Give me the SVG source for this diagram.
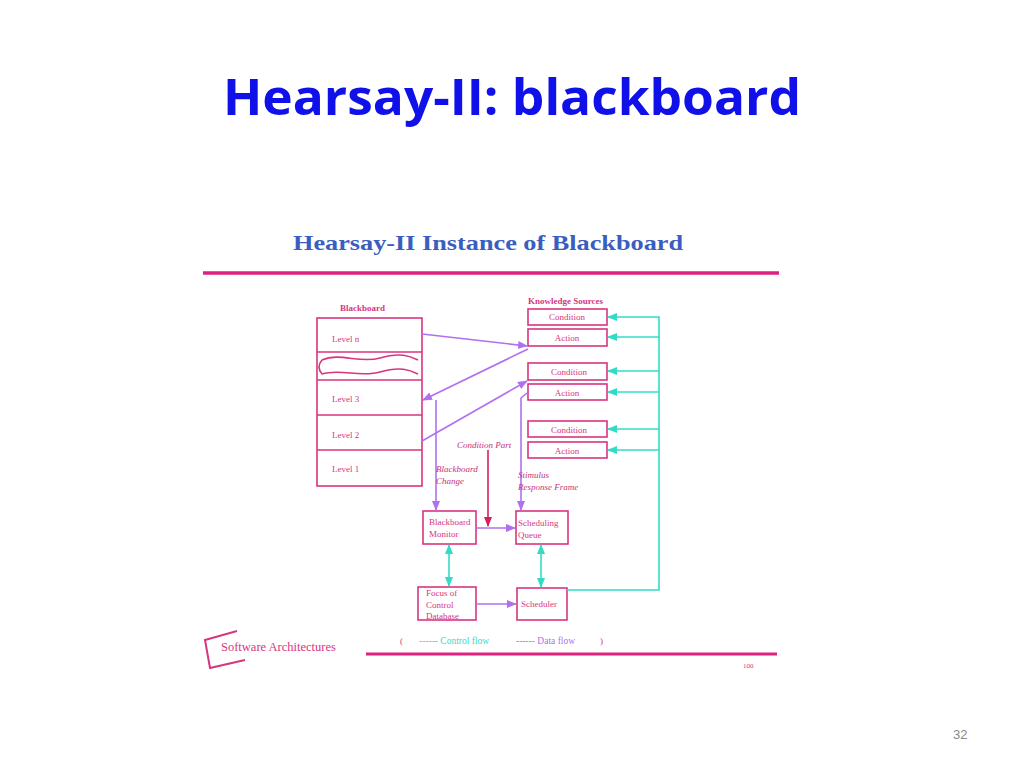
<svg xmlns="http://www.w3.org/2000/svg" width="1024" height="768" viewBox="0 0 1024 768">
<style>
.b{fill:none;stroke:#d8357f;stroke-width:1.6}
.t{font-family:"Liberation Serif",serif;font-size:9px;fill:#d8357f}
.i{font-family:"Liberation Serif",serif;font-size:9px;fill:#c8307a;font-style:italic}
.p{stroke:#b070f0;stroke-width:1.6;fill:none}
.c{stroke:#30dcc8;stroke-width:1.6;fill:none}
.r{stroke:#d81e60;stroke-width:1.6;fill:none}
</style>
<defs>
<marker id="ap" markerWidth="10" markerHeight="8" refX="9" refY="4" orient="auto" markerUnits="userSpaceOnUse"><path d="M0,0L10,4L0,8z" fill="#b070f0"/></marker>
<marker id="ac" markerWidth="10" markerHeight="8" refX="9" refY="4" orient="auto-start-reverse" markerUnits="userSpaceOnUse"><path d="M0,0L10,4L0,8z" fill="#30dcc8"/></marker>
<marker id="ar" markerWidth="10" markerHeight="8" refX="9" refY="4" orient="auto" markerUnits="userSpaceOnUse"><path d="M0,0L10,4L0,8z" fill="#d81e60"/></marker>
</defs>
<rect width="1024" height="768" fill="#fff"/>
<text x="512" y="115" text-anchor="middle" font-family="'Open Sans','Liberation Sans',sans-serif" font-weight="bold" font-size="50" fill="#1010e8" textLength="578" lengthAdjust="spacingAndGlyphs">Hearsay-II: blackboard</text>
<text x="488" y="250" text-anchor="middle" font-family="'Liberation Serif',serif" font-weight="bold" font-size="21" fill="#3a5ec0" textLength="390" lengthAdjust="spacingAndGlyphs">Hearsay-II Instance of Blackboard</text>
<line x1="203" y1="273" x2="779" y2="273" stroke="#e0207f" stroke-width="3.5"/>
<g id="blackboard">
<text x="340" y="311" class="t" font-weight="bold">Blackboard</text>
<rect x="317" y="318" width="105" height="168" class="b"/>
<line x1="317" y1="352" x2="422" y2="352" class="b"/>
<line x1="317" y1="380" x2="422" y2="380" class="b"/>
<line x1="317" y1="415" x2="422" y2="415" class="b"/>
<line x1="317" y1="450" x2="422" y2="450" class="b"/>
<path d="M322,360 C340,352 360,364 380,358 S410,356 418,360 M322,374 C340,368 360,378 380,372 S410,370 418,374 M322,360 Q316,367 322,374" class="b"/>
<text x="332" y="342" class="t">Level n</text>
<text x="332" y="402" class="t">Level 3</text>
<text x="332" y="438" class="t">Level 2</text>
<text x="332" y="472" class="t">Level 1</text>
</g>
<g id="ks">
<text x="528" y="304" class="t" font-weight="bold">Knowledge Sources</text>
<rect x="528" y="309" width="79" height="16" class="b"/><text x="567" y="320" class="t" text-anchor="middle">Condition</text>
<rect x="528" y="329" width="79" height="17" class="b"/><text x="567" y="341" class="t" text-anchor="middle">Action</text>
<rect x="528" y="363" width="79" height="17" class="b"/><text x="569" y="375" class="t" text-anchor="middle">Condition</text>
<rect x="528" y="384" width="79" height="16" class="b"/><text x="567" y="396" class="t" text-anchor="middle">Action</text>
<rect x="528" y="421" width="79" height="16" class="b"/><text x="569" y="433" class="t" text-anchor="middle">Condition</text>
<rect x="528" y="442" width="79" height="16" class="b"/><text x="567" y="454" class="t" text-anchor="middle">Action</text>
</g>
<g id="monitor"><rect x="423" y="511" width="53" height="33" class="b"/><text x="429" y="525" class="t">Blackboard</text><text x="429" y="537" class="t">Monitor</text></g>
<g id="queue"><rect x="516" y="511" width="52" height="33" class="b"/><text x="518" y="526" class="t">Scheduling</text><text x="518" y="538" class="t">Queue</text></g>
<g id="focus"><rect x="418" y="587" width="58" height="33" class="b"/><text x="426" y="596" class="t">Focus of</text><text x="426" y="608" class="t">Control</text><text x="426" y="619" class="t">Database</text></g>
<g id="scheduler"><rect x="517" y="588" width="50" height="32" class="b"/><text x="521" y="607" class="t">Scheduler</text></g>
<g id="connectors">
<line x1="422" y1="334" x2="527" y2="346" class="p" marker-end="url(#ap)"/>
<line x1="528" y1="349" x2="423" y2="400" class="p" marker-end="url(#ap)"/>
<line x1="422" y1="441" x2="527" y2="381" class="p" marker-end="url(#ap)"/>
<line x1="436" y1="400" x2="436" y2="510" class="p" marker-end="url(#ap)"/>
<path d="M527,393 L521,398 L521,510" class="p" marker-end="url(#ap)"/>
<line x1="488" y1="450" x2="488" y2="526" class="r" marker-end="url(#ar)"/>
<line x1="476" y1="528" x2="515" y2="528" class="p" marker-end="url(#ap)"/>
<line x1="476" y1="604" x2="516" y2="604" class="p" marker-end="url(#ap)"/>
<line x1="449" y1="545" x2="449" y2="586" class="c" marker-start="url(#ac)" marker-end="url(#ac)"/>
<line x1="541" y1="545" x2="541" y2="587" class="c" marker-start="url(#ac)" marker-end="url(#ac)"/>
<path d="M567,590 H659 V317 H608" class="c" marker-end="url(#ac)"/>
<line x1="659" y1="337" x2="608" y2="337" class="c" marker-end="url(#ac)"/>
<line x1="659" y1="371" x2="608" y2="371" class="c" marker-end="url(#ac)"/>
<line x1="659" y1="392" x2="608" y2="392" class="c" marker-end="url(#ac)"/>
<line x1="659" y1="429" x2="608" y2="429" class="c" marker-end="url(#ac)"/>
<line x1="659" y1="450" x2="608" y2="450" class="c" marker-end="url(#ac)"/>
</g>
<text x="457" y="448" class="i">Condition Part</text>
<text x="436" y="472" class="i">Blackboard</text>
<text x="436" y="484" class="i">Change</text>
<text x="518" y="478" class="i">Stimulus</text>
<text x="518" y="490" class="i">Response Frame</text>
<path d="M237,631 L205,640 L210,668 L245,660" fill="none" stroke="#d8357f" stroke-width="2"/>
<text x="221" y="651" font-family="'Liberation Serif',serif" font-size="12.5" fill="#d8357f">Software Architectures</text>
<line x1="366" y1="654" x2="777" y2="654" stroke="#e0207f" stroke-width="3"/>
<text x="400" y="644" class="t" fill="#d8357f">(</text>
<text x="419" y="644" font-family="'Liberation Serif',serif" font-size="9.5" fill="#30dcc8">------ Control flow</text>
<text x="516" y="644" font-family="'Liberation Serif',serif" font-size="9.5" fill="#b070f0">------ Data flow</text>
<text x="600" y="644" class="t">)</text>
<text x="743" y="668" font-family="'Liberation Serif',serif" font-size="7" fill="#d8357f">100</text>
<text x="953" y="739" font-family="'Liberation Sans',sans-serif" font-size="13" fill="#888">32</text>
</svg>
